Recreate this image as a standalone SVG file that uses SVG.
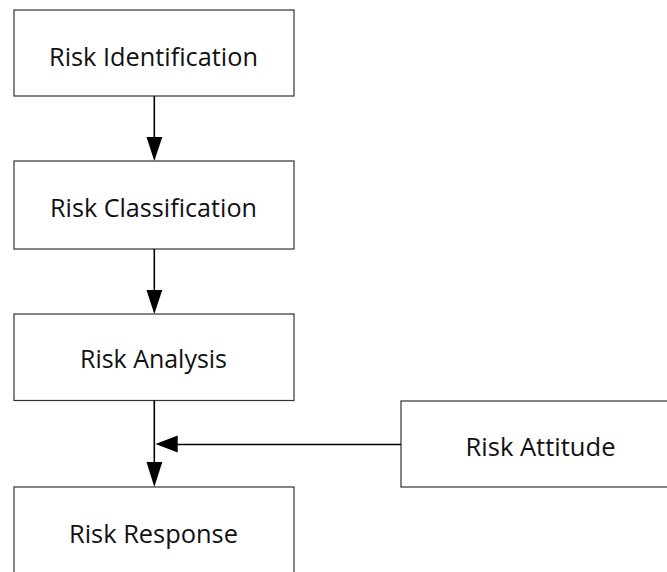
<svg xmlns="http://www.w3.org/2000/svg" width="667" height="572" viewBox="0 0 667 572">
<defs>
<style>
.box{fill:#fff;stroke:#333;stroke-width:1.2}
.lbl{font-family:"Open Sans","Noto Sans",sans-serif;font-size:26px;fill:#111;text-anchor:middle}
.conn{stroke:#000;stroke-width:1.6;fill:none}
.head{fill:#000}
</style>
</defs>
<rect width="667" height="572" fill="#fff"/>
<g id="risk-identification">
<rect class="box" x="14" y="10" width="280" height="86"/>
<text class="lbl" x="153.5" y="65.7" textLength="209" lengthAdjust="spacingAndGlyphs">Risk Identification</text>
</g>
<g id="risk-classification">
<rect class="box" x="14" y="161" width="280" height="88"/>
<text class="lbl" x="153.5" y="216.7" textLength="207" lengthAdjust="spacingAndGlyphs">Risk Classification</text>
</g>
<g id="risk-analysis">
<rect class="box" x="14" y="314" width="280" height="86.5"/>
<text class="lbl" x="153.5" y="368" textLength="147" lengthAdjust="spacingAndGlyphs">Risk Analysis</text>
</g>
<g id="risk-attitude">
<rect class="box" x="401" y="401" width="280" height="86"/>
<text class="lbl" x="540.5" y="456" textLength="150" lengthAdjust="spacingAndGlyphs">Risk Attitude</text>
</g>
<g id="risk-response">
<rect class="box" x="14" y="487" width="280" height="100"/>
<text class="lbl" x="153.5" y="543.3" textLength="169" lengthAdjust="spacingAndGlyphs">Risk Response</text>
</g>
<g id="connectors">
<line class="conn" x1="154.3" y1="96" x2="154.3" y2="138"/>
<polygon class="head" points="146.5,137 162.3,137 154.3,161"/>
<line class="conn" x1="154.3" y1="249" x2="154.3" y2="291"/>
<polygon class="head" points="146.5,290 162.3,290 154.3,314"/>
<line class="conn" x1="154.3" y1="400.5" x2="154.3" y2="463"/>
<polygon class="head" points="146.5,462 162.3,462 154.3,487"/>
<line class="conn" x1="401" y1="444.5" x2="176" y2="444.5"/>
<polygon class="head" points="155.5,444 177.7,435.5 177.7,452.5"/>
</g>
</svg>
